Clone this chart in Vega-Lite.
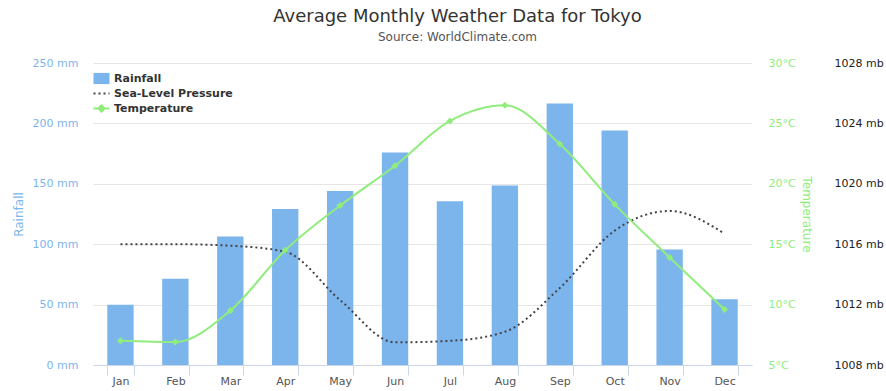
{
  "$schema": "https://vega.github.io/schema/vega-lite/v6.json",
  "autosize": {"type": "none"},
  "width": 659,
  "height": 302,
  "padding": {"left": 93, "top": 63, "right": 134, "bottom": 26},
  "title": {
    "text": "Average Monthly Weather Data for Tokyo",
    "subtitle": "Source: WorldClimate.com",
    "anchor": "middle",
    "frame": "group",
    "dx": 35,
    "offset": 14,
    "font": "DejaVu Sans",
    "fontSize": 18,
    "fontWeight": "normal",
    "color": "#333333",
    "subtitleFont": "DejaVu Sans",
    "subtitleFontSize": 12,
    "subtitleColor": "#555555",
    "subtitlePadding": 6
  },
  "data": {
    "values": [
      {"month": "Jan", "rainfall": 49.9, "temperature": 7.0, "pressure": 1016},
      {"month": "Feb", "rainfall": 71.5, "temperature": 6.9, "pressure": 1016},
      {"month": "Mar", "rainfall": 106.4, "temperature": 9.5, "pressure": 1015.9},
      {"month": "Apr", "rainfall": 129.2, "temperature": 14.5, "pressure": 1015.5},
      {"month": "May", "rainfall": 144.0, "temperature": 18.2, "pressure": 1012.3},
      {"month": "Jun", "rainfall": 176.0, "temperature": 21.5, "pressure": 1009.5},
      {"month": "Jul", "rainfall": 135.6, "temperature": 25.2, "pressure": 1009.6},
      {"month": "Aug", "rainfall": 148.5, "temperature": 26.5, "pressure": 1010.2},
      {"month": "Sep", "rainfall": 216.4, "temperature": 23.3, "pressure": 1013.1},
      {"month": "Oct", "rainfall": 194.1, "temperature": 18.3, "pressure": 1016.9},
      {"month": "Nov", "rainfall": 95.6, "temperature": 13.9, "pressure": 1018.2},
      {"month": "Dec", "rainfall": 54.4, "temperature": 9.6, "pressure": 1016.7}
    ]
  },
  "encoding": {
    "x": {
      "field": "month",
      "type": "nominal",
      "sort": null,
      "scale": {"paddingInner": 0.52, "paddingOuter": 0.26},
      "axis": {
        "title": null,
        "labelAngle": 0,
        "domainColor": "#ccd6eb",
        "tickColor": "#ccd6eb",
        "tickSize": 10,
        "tickBand": "extent",
        "labelColor": "#555555",
        "labelFontSize": 11,
        "labelPadding": 0,
        "grid": false
      }
    }
  },
  "layer": [
    {
      "mark": {"type": "bar"},
      "encoding": {
        "y": {
          "field": "rainfall",
          "type": "quantitative",
          "scale": {"domain": [0, 250], "nice": false},
          "axis": {
            "orient": "left",
            "title": "Rainfall",
            "values": [0, 50, 100, 150, 200, 250],
            "labelExpr": "datum.value + ' mm'",
            "labelColor": "#7cb5ec",
            "labelFontSize": 11,
            "titleColor": "#7cb5ec",
            "titleFontSize": 12,
            "titleFontWeight": "normal",
            "ticks": false,
            "domain": false,
            "labelPadding": 15,
            "grid": true,
            "gridColor": "#e6e6e6",
            "titleX": -75,
            "titleY": 151,
            "titleAngle": -90,
            "titleAlign": "center",
            "titleBaseline": "middle"
          }
        },
        "color": {
          "datum": "Rainfall",
          "type": "nominal",
          "scale": {
            "domain": ["Rainfall", "Sea-Level Pressure", "Temperature"],
            "range": ["#7cb5ec", "#434348", "#90ed7d"]
          },
          "legend": {
            "title": null,
            "orient": "none",
            "legendX": 3,
            "legendY": 10,
            "padding": 0,
            "rowPadding": 2,
            "labelOffset": 7,
            "labelFont": "DejaVu Sans",
            "labelFontSize": 11,
            "labelFontWeight": "bold",
            "labelColor": "#333333",
            "symbolSize": 256,
            "encode": {
              "symbols": {
                "update": {
                  "shape": {"signal": "datum.value == 'Rainfall' ? 'M-1,-0.7H1V0.7H-1Z' : datum.value == 'Temperature' ? 'M-1,0H1M0,-0.4L0.4,0L0,0.4L-0.4,0Z' : 'stroke'"},
                  "fill": {"signal": "datum.value == 'Sea-Level Pressure' ? 'transparent' : scale('color', datum.value)"},
                  "stroke": {"signal": "scale('color', datum.value)"},
                  "strokeDash": {"signal": "datum.value == 'Sea-Level Pressure' ? [2, 3] : [1, 0]"},
                  "strokeWidth": {"signal": "datum.value == 'Rainfall' ? 0 : 2"},
                  "opacity": {"value": 1}
                }
              }
            }
          }
        }
      }
    },
    {
      "mark": {"type": "line", "interpolate": "monotone", "strokeDash": [2, 3], "strokeWidth": 2},
      "encoding": {
        "y": {
          "field": "pressure",
          "type": "quantitative",
          "scale": {"domain": [1008, 1028], "nice": false},
          "axis": {
            "orient": "right",
            "title": null,
            "values": [1008, 1012, 1016, 1020, 1024, 1028],
            "labelExpr": "datum.value + ' mb'",
            "labelColor": "#222222",
            "labelFontSize": 11,
            "ticks": false,
            "domain": false,
            "grid": false,
            "labelPadding": 82
          }
        },
        "color": {"datum": "Sea-Level Pressure", "type": "nominal"}
      }
    },
    {
      "mark": {"type": "line", "interpolate": "monotone", "strokeWidth": 2, "point": {"shape": "diamond", "size": 50, "filled": true}},
      "encoding": {
        "y": {
          "field": "temperature",
          "type": "quantitative",
          "scale": {"domain": [5, 30], "nice": false},
          "axis": {
            "orient": "right",
            "title": "Temperature",
            "values": [5, 10, 15, 20, 25, 30],
            "labelExpr": "datum.value + '°C'",
            "labelColor": "#90ed7d",
            "labelFontSize": 11,
            "titleColor": "#90ed7d",
            "titleFontSize": 12,
            "titleFontWeight": "normal",
            "ticks": false,
            "domain": false,
            "grid": false,
            "labelPadding": 16,
            "titleX": 54,
            "titleY": 151,
            "titleAngle": 90,
            "titleAlign": "center",
            "titleBaseline": "middle"
          }
        },
        "color": {"datum": "Temperature", "type": "nominal"}
      }
    }
  ],
  "resolve": {"scale": {"y": "independent"}},
  "config": {
    "view": {"stroke": null},
    "font": "DejaVu Sans",
    "axis": {"labelFont": "DejaVu Sans", "titleFont": "DejaVu Sans"}
  }
}
